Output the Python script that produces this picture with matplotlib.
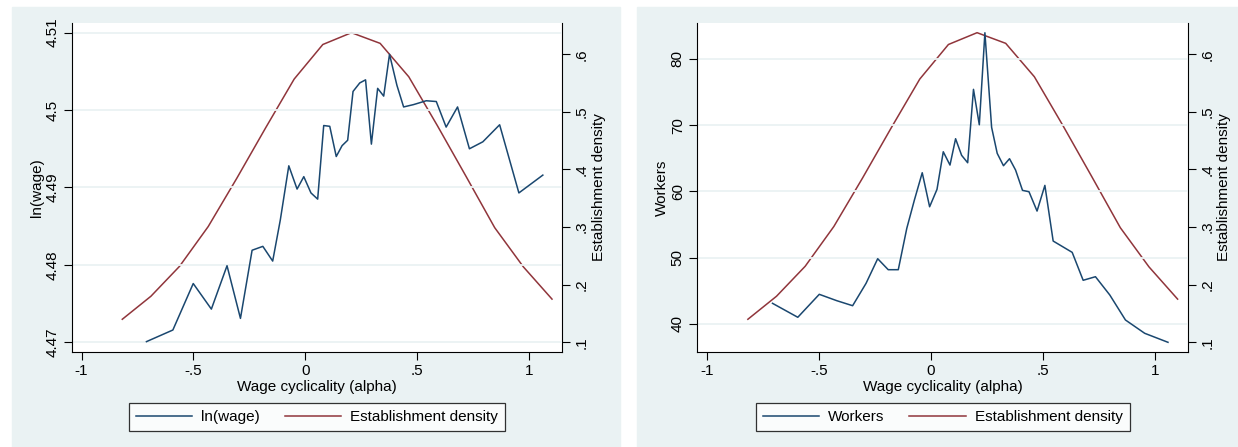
import matplotlib
matplotlib.use("Agg")
import matplotlib.pyplot as plt
from matplotlib.patches import Rectangle

plt.rcParams['font.family'] = ['Liberation Sans', 'DejaVu Sans']
plt.rcParams['font.size'] = 11

# establishment density (same curve in both panels)
alpha_dens = [-0.818, -0.690, -0.562, -0.434, -0.306, -0.178, -0.050, 0.078,
              0.206, 0.334, 0.462, 0.590, 0.718, 0.846, 0.974, 1.102]
densidad = [0.140, 0.180, 0.232, 0.301, 0.385, 0.472, 0.557, 0.617,
            0.6375, 0.619, 0.561, 0.476, 0.388, 0.299, 0.231, 0.175]

# ln(wage) por bin de alpha
alpha_wage = [-0.710, -0.592, -0.501, -0.420, -0.350, -0.290, -0.238, -0.190,
              -0.146, -0.112, -0.074, -0.037, -0.007, 0.025, 0.055, 0.082,
              0.109, 0.138, 0.164, 0.189, 0.213, 0.243, 0.269, 0.295, 0.323,
              0.350, 0.376, 0.409, 0.439, 0.483, 0.540, 0.585, 0.629, 0.680,
              0.733, 0.793, 0.868, 0.954, 1.061]
lnwage = [4.4701, 4.4716, 4.4776, 4.4743, 4.4799, 4.4731, 4.4819, 4.4824,
          4.4805, 4.4858, 4.4928, 4.4898, 4.4914, 4.4893, 4.4885, 4.4980,
          4.4979, 4.4940, 4.4954, 4.4961, 4.5024, 4.5035, 4.5039, 4.4956,
          4.5028, 4.5018, 4.5072, 4.5032, 4.5004, 4.5007, 4.5012, 4.5011,
          4.4978, 4.5004, 4.4950, 4.4959, 4.4981, 4.4893, 4.4916]

# workers por bin de alpha
alpha_work = [-0.708, -0.595, -0.499, -0.421, -0.350, -0.290, -0.238, -0.191,
              -0.146, -0.108, -0.074, -0.039, -0.006, 0.027, 0.055, 0.085,
              0.110, 0.137, 0.164, 0.190, 0.216, 0.241, 0.271, 0.296, 0.324,
              0.351, 0.378, 0.409, 0.438, 0.474, 0.509, 0.546, 0.631, 0.680,
              0.735, 0.799, 0.869, 0.955, 1.059]
workers = [43.08, 40.97, 44.44, 43.48, 42.72, 46.10, 49.82, 48.16,
           48.16, 54.41, 58.69, 62.81, 57.67, 60.30, 65.98, 63.97,
           67.95, 65.44, 64.32, 75.41, 70.06, 83.96, 69.67, 65.74, 63.87,
           64.93, 63.22, 60.15, 59.94, 57.02, 60.90, 52.49, 50.78, 46.56,
           47.10, 44.34, 40.56, 38.55, 37.19]

xticks = [-1, -0.5, 0, 0.5, 1]
xlabels = ["-1", "-.5", "0", ".5", "1"]
dticks = [0.1, 0.2, 0.3, 0.4, 0.5, 0.6]
dlabels = [".1", ".2", ".3", ".4", ".5", ".6"]
wticks = [4.47, 4.48, 4.49, 4.50, 4.51]
wlabels = ["4.47", "4.48", "4.49", "4.5", "4.51"]
kticks = [40, 50, 60, 70, 80]
klabels = ["40", "50", "60", "70", "80"]

AZUL = "#1A476F"
ROJO = "#90353B"
FUNDO = "#EAF2F3"

W, H = 1238, 447
fig = plt.figure(figsize=(W / 100, H / 100), dpi=100, facecolor="white")

# fundo de cada painel (atras dos eixos)
fig.patches.append(Rectangle((12 / W, 0), (620 - 12) / W, (H - 7) / H,
                             transform=fig.transFigure, color=FUNDO, zorder=-5))
fig.patches.append(Rectangle((636.5 / W, 0), (W - 636.5) / W, (H - 7) / H,
                             transform=fig.transFigure, color=FUNDO, zorder=-5))


def painel(x0, xs, ys, ylim, yt, ylab, nome):
    ax = fig.add_axes([x0 / W, (H - 351.7) / H, 490.6 / W, 328.4 / H])
    ax.set_xlim(-1.044, 1.148)
    ax.set_ylim(*ylim)
    ax.spines["top"].set_visible(False)
    ax.spines["right"].set_visible(False)
    for s in ["left", "bottom"]:
        ax.spines[s].set_linewidth(0.8)
    ax.set_xticks(xticks)
    ax.set_xticklabels(xlabels)
    ax.set_yticks(yt)
    ax.set_yticklabels(ylab, rotation=90, va="center")
    ax.tick_params(length=6, width=0.8, pad=3)
    ax.tick_params(axis="x", pad=3)
    ax.grid(axis="y", color=FUNDO, linewidth=1.3)
    ax.set_axisbelow(True)
    ax.set_xlabel("Wage cyclicality (alpha)", labelpad=1)
    ax.set_ylabel(nome, labelpad=1)

    ax2 = ax.twinx()
    ax2.set_ylim(0.0837, 0.6538)
    ax2.spines["top"].set_visible(False)
    ax2.spines["left"].set_visible(False)
    ax2.spines["bottom"].set_visible(False)
    ax2.spines["right"].set_linewidth(0.8)
    ax2.set_yticks(dticks)
    ax2.set_yticklabels(dlabels, rotation=90, va="center")
    ax2.tick_params(length=6, width=0.8, pad=3)
    ax2.set_ylabel("Establishment density", labelpad=2)
    l2, = ax2.plot(alpha_dens, densidad, color=ROJO, linewidth=1.1)

    # eixo principal por cima, sem fundo, para a grade e a linha azul
    ax2.set_zorder(1)
    ax.set_zorder(2)
    ax.patch.set_visible(False)
    ax2.patch.set_visible(True)
    ax2.patch.set_facecolor("white")
    l1, = ax.plot(xs, ys, color=AZUL, linewidth=1.1, zorder=3)

    leg = fig.legend([l1, l2], [nome, "Establishment density"], ncol=2,
                     loc="center", bbox_to_anchor=((x0 + 245.3) / W, (H - 417) / H),
                     frameon=True, fancybox=False, edgecolor="black",
                     handlelength=3.7, handletextpad=0.6, columnspacing=1.6,
                     borderpad=0.45, fontsize=11)
    leg.get_frame().set_linewidth(0.9)
    return ax


painel(71.7, alpha_wage, lnwage, (4.4688, 4.5112), wticks, wlabels, "ln(wage)")
painel(697.3, alpha_work, workers, (35.77, 85.39), kticks, klabels, "Workers")

fig.savefig("out.png", dpi=100, facecolor="white")
